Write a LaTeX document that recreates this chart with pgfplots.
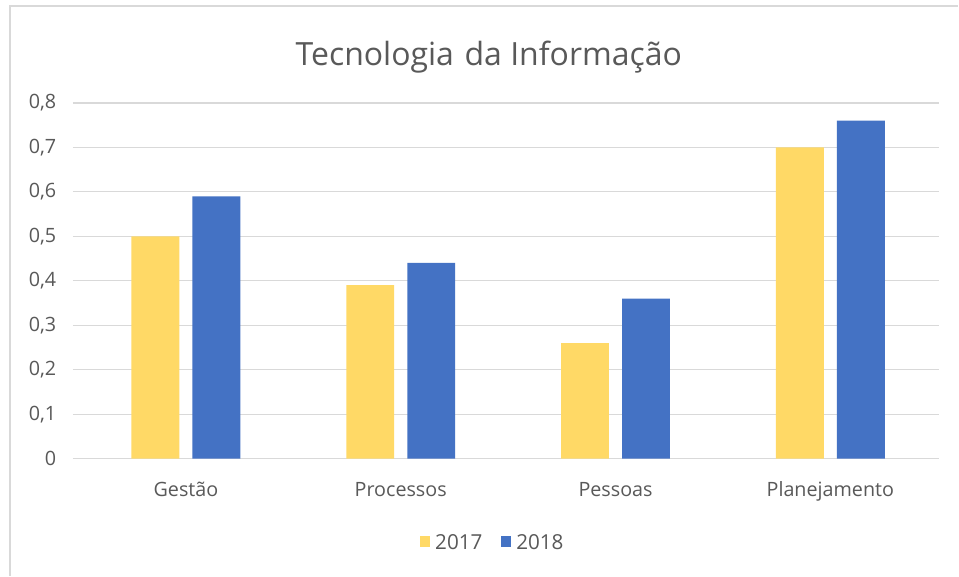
\documentclass[border=0pt]{standalone}
\usepackage{pgfplots}
\pgfplotsset{compat=1.18}
\usepackage{fontspec}
\setmainfont{Open Sans}
\definecolor{cyel}{HTML}{FFD966}
\definecolor{cblue}{HTML}{4472C4}
\definecolor{ctxt}{HTML}{595959}
\definecolor{cgrid}{HTML}{D9D9D9}
\begin{document}
\begin{tikzpicture}[x=0.75pt,y=0.75pt]
\fill[white] (0,0) rectangle (959,576);
\draw[cgrid,line width=1.2pt] (10,0) -- (10,570) -- (959,570);
\begin{axis}[
  at={(54.75pt,87.75pt)}, anchor=south west,
  scale only axis, width=650.25pt, height=267pt,
  ymin=0, ymax=0.8, ytick={0,0.1,...,0.8},
  xmin=-0.526, xmax=3.507,
  xtick={0,1,2,3}, xticklabels={Gestão,Processos,Pessoas,Planejamento},
  ybar, bar width=0.223,
  axis line style={draw=none},
  ymajorgrids, grid style={cgrid, line width=0.9pt},
  major tick length=0pt,
  tick label style={font=\fontsize{14.8}{16}\selectfont, text=ctxt},
  yticklabel style={/pgf/number format/.cd, use comma, fixed, precision=1, assume math mode=true},
  ytick style={draw=none}, xtick style={draw=none},
  yticklabel shift=9pt,
  xticklabel shift=14pt,
  title={Tecnologia\,\,da Informação},
  title style={font=\fontsize{24}{27}\selectfont, text=ctxt, yshift=13pt, xshift=-13pt},
  legend style={at={(0.485,-0.236)}, anchor=center, draw=none, font=\fontsize{15.5}{17}\selectfont, text=ctxt, legend columns=2,
    /tikz/every odd column/.append style={column sep=2pt},
    /tikz/every even column/.append style={column sep=12pt}},
  legend image code/.code={\fill[#1] (0cm,-0.13cm) rectangle (0.26cm,0.17cm);},
]
\addplot[fill=cyel, draw=none, bar shift=-0.142] coordinates {(0,0.50) (1,0.39) (2,0.26) (3,0.70)};
\addplot[fill=cblue, draw=none, bar shift=0.142] coordinates {(0,0.59) (1,0.44) (2,0.36) (3,0.76)};
\legend{2017,2018}
\end{axis}
\end{tikzpicture}
\end{document}
